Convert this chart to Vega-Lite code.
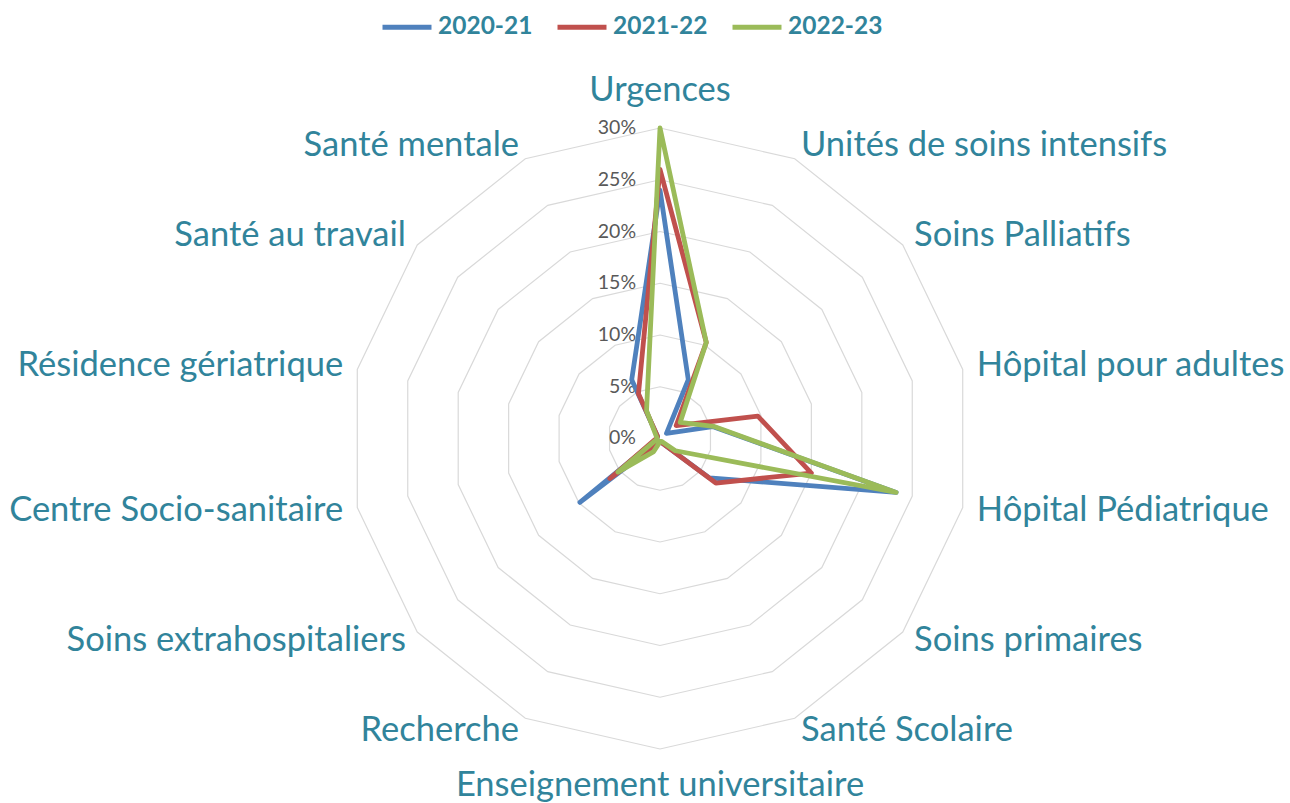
{
  "$schema": "https://vega.github.io/schema/vega-lite/v6.json",
  "width": 1290,
  "height": 803,
  "autosize": {"type": "fit", "contains": "padding"},
  "padding": 0,
  "background": "white",
  "config": {"view": {"stroke": null}, "font": "Lato"},
  "datasets": {
    "series": [
      {"cat": "Urgences", "idx": 0, "series": "2020-21", "value": 24},
      {"cat": "Unités de soins intensifs", "idx": 1, "series": "2020-21", "value": 6.3},
      {"cat": "Soins Palliatifs", "idx": 2, "series": "2020-21", "value": 0.8},
      {"cat": "Hôpital pour adultes", "idx": 3, "series": "2020-21", "value": 5.2},
      {"cat": "Hôpital Pédiatrique", "idx": 4, "series": "2020-21", "value": 23.4},
      {"cat": "Soins primaires", "idx": 5, "series": "2020-21", "value": 6.1},
      {"cat": "Santé Scolaire", "idx": 6, "series": "2020-21", "value": 0.5},
      {"cat": "Enseignement universitaire", "idx": 7, "series": "2020-21", "value": 0.3},
      {"cat": "Recherche", "idx": 8, "series": "2020-21", "value": 0.5},
      {"cat": "Soins extrahospitaliers", "idx": 9, "series": "2020-21", "value": 9.9},
      {"cat": "Centre Socio-sanitaire", "idx": 10, "series": "2020-21", "value": 0.3},
      {"cat": "Résidence gériatrique", "idx": 11, "series": "2020-21", "value": 0.3},
      {"cat": "Santé au travail", "idx": 12, "series": "2020-21", "value": 0.3},
      {"cat": "Santé mentale", "idx": 13, "series": "2020-21", "value": 6.3},
      {"cat": "Urgences", "idx": 0, "series": "2021-22", "value": 26},
      {"cat": "Unités de soins intensifs", "idx": 1, "series": "2021-22", "value": 10.3},
      {"cat": "Soins Palliatifs", "idx": 2, "series": "2021-22", "value": 2.0},
      {"cat": "Hôpital pour adultes", "idx": 3, "series": "2021-22", "value": 9.7},
      {"cat": "Hôpital Pédiatrique", "idx": 4, "series": "2021-22", "value": 15},
      {"cat": "Soins primaires", "idx": 5, "series": "2021-22", "value": 6.9},
      {"cat": "Santé Scolaire", "idx": 6, "series": "2021-22", "value": 0.5},
      {"cat": "Enseignement universitaire", "idx": 7, "series": "2021-22", "value": 0.3},
      {"cat": "Recherche", "idx": 8, "series": "2021-22", "value": 0.5},
      {"cat": "Soins extrahospitaliers", "idx": 9, "series": "2021-22", "value": 6.2},
      {"cat": "Centre Socio-sanitaire", "idx": 10, "series": "2021-22", "value": 0.5},
      {"cat": "Résidence gériatrique", "idx": 11, "series": "2021-22", "value": 0.3},
      {"cat": "Santé au travail", "idx": 12, "series": "2021-22", "value": 0.3},
      {"cat": "Santé mentale", "idx": 13, "series": "2021-22", "value": 4.8},
      {"cat": "Urgences", "idx": 0, "series": "2022-23", "value": 30},
      {"cat": "Unités de soins intensifs", "idx": 1, "series": "2022-23", "value": 10.3},
      {"cat": "Soins Palliatifs", "idx": 2, "series": "2022-23", "value": 2.5},
      {"cat": "Hôpital pour adultes", "idx": 3, "series": "2022-23", "value": 5.3},
      {"cat": "Hôpital Pédiatrique", "idx": 4, "series": "2022-23", "value": 23.4},
      {"cat": "Soins primaires", "idx": 5, "series": "2022-23", "value": 1.9},
      {"cat": "Santé Scolaire", "idx": 6, "series": "2022-23", "value": 0.3},
      {"cat": "Enseignement universitaire", "idx": 7, "series": "2022-23", "value": 0.3},
      {"cat": "Recherche", "idx": 8, "series": "2022-23", "value": 1.4},
      {"cat": "Soins extrahospitaliers", "idx": 9, "series": "2022-23", "value": 5.2},
      {"cat": "Centre Socio-sanitaire", "idx": 10, "series": "2022-23", "value": 0.3},
      {"cat": "Résidence gériatrique", "idx": 11, "series": "2022-23", "value": 0.3},
      {"cat": "Santé au travail", "idx": 12, "series": "2022-23", "value": 0.5},
      {"cat": "Santé mentale", "idx": 13, "series": "2022-23", "value": 3.0}
    ],
    "cats": [
      {"cat": "Urgences", "idx": 0},
      {"cat": "Unités de soins intensifs", "idx": 1},
      {"cat": "Soins Palliatifs", "idx": 2},
      {"cat": "Hôpital pour adultes", "idx": 3},
      {"cat": "Hôpital Pédiatrique", "idx": 4},
      {"cat": "Soins primaires", "idx": 5},
      {"cat": "Santé Scolaire", "idx": 6},
      {"cat": "Enseignement universitaire", "idx": 7},
      {"cat": "Recherche", "idx": 8},
      {"cat": "Soins extrahospitaliers", "idx": 9},
      {"cat": "Centre Socio-sanitaire", "idx": 10},
      {"cat": "Résidence gériatrique", "idx": 11},
      {"cat": "Santé au travail", "idx": 12},
      {"cat": "Santé mentale", "idx": 13}
    ],
    "rings": [
      {"ring": 5, "idx": [0,1,2,3,4,5,6,7,8,9,10,11,12,13]},
      {"ring": 10, "idx": [0,1,2,3,4,5,6,7,8,9,10,11,12,13]},
      {"ring": 15, "idx": [0,1,2,3,4,5,6,7,8,9,10,11,12,13]},
      {"ring": 20, "idx": [0,1,2,3,4,5,6,7,8,9,10,11,12,13]},
      {"ring": 25, "idx": [0,1,2,3,4,5,6,7,8,9,10,11,12,13]},
      {"ring": 30, "idx": [0,1,2,3,4,5,6,7,8,9,10,11,12,13]}
    ],
    "ticks": [
      {"t": 0, "label": "0%"},
      {"t": 5, "label": "5%"},
      {"t": 10, "label": "10%"},
      {"t": 15, "label": "15%"},
      {"t": 20, "label": "20%"},
      {"t": 25, "label": "25%"},
      {"t": 30, "label": "30%"}
    ]
  },
  "layer": [
    {
      "data": {"name": "rings"},
      "transform": [
        {"flatten": ["idx"]},
        {"calculate": "datum.idx * 2 * PI / 14", "as": "a"},
        {"calculate": "datum.ring * sin(datum.a)", "as": "x"},
        {"calculate": "datum.ring * cos(datum.a)", "as": "y"}
      ],
      "mark": {"type": "line", "interpolate": "linear-closed", "stroke": "#D9D9D9", "strokeWidth": 1.2},
      "encoding": {
        "x": {"field": "x", "type": "quantitative", "scale": {"domain": [-63.77, 60.87], "nice": false, "zero": false}, "axis": null},
        "y": {"field": "y", "type": "quantitative", "scale": {"domain": [-35.22, 42.37], "nice": false, "zero": false}, "axis": null},
        "detail": {"field": "ring", "type": "nominal"},
        "order": {"field": "idx", "type": "quantitative"}
      }
    },
    {
      "data": {"name": "ticks"},
      "transform": [
        {"calculate": "0", "as": "x"}
      ],
      "mark": {"type": "text", "align": "right", "baseline": "middle", "dx": -24, "fontSize": 19.5, "color": "#595959"},
      "encoding": {
        "x": {"field": "x", "type": "quantitative"},
        "y": {"field": "t", "type": "quantitative"},
        "text": {"field": "label"}
      }
    },
    {
      "data": {"name": "series"},
      "transform": [
        {"calculate": "datum.idx * 2 * PI / 14", "as": "a"},
        {"calculate": "datum.value * sin(datum.a)", "as": "x"},
        {"calculate": "datum.value * cos(datum.a)", "as": "y"}
      ],
      "mark": {"type": "line", "interpolate": "linear-closed", "strokeWidth": 4.8, "strokeJoin": "round", "strokeCap": "round"},
      "encoding": {
        "x": {"field": "x", "type": "quantitative"},
        "y": {"field": "y", "type": "quantitative"},
        "order": {"field": "idx", "type": "quantitative"},
        "color": {
          "field": "series", "type": "nominal",
          "scale": {"domain": ["2020-21", "2021-22", "2022-23"], "range": ["#4F81BD", "#C0504D", "#9BBB59"]},
          "legend": {
            "title": null, "orient": "none", "direction": "horizontal",
            "legendX": 380, "legendY": 0,
            "symbolType": "stroke", "symbolSize": 2400, "symbolStrokeWidth": 4.8,
            "labelFontSize": 24.5, "labelFontWeight": "bold", "labelColor": "#31849B",
            "labelOffset": 4, "columnPadding": 14, "labelFont": "Lato"
          }
        }
      }
    },
    {
      "data": {"name": "cats"},
      "transform": [
        {"filter": "datum.idx >= 1 && datum.idx <= 6"},
        {"calculate": "datum.idx * 2 * PI / 14", "as": "a"},
        {"calculate": "31.4 * sin(datum.a)", "as": "x"},
        {"calculate": "31.4 * cos(datum.a)", "as": "y"}
      ],
      "mark": {"type": "text", "align": "left", "baseline": "middle", "fontSize": 34.5, "color": "#31849B"},
      "encoding": {
        "x": {"field": "x", "type": "quantitative"},
        "y": {"field": "y", "type": "quantitative"},
        "text": {"field": "cat"}
      }
    },
    {
      "data": {"name": "cats"},
      "transform": [
        {"filter": "datum.idx >= 8"},
        {"calculate": "datum.idx * 2 * PI / 14", "as": "a"},
        {"calculate": "31.4 * sin(datum.a)", "as": "x"},
        {"calculate": "31.4 * cos(datum.a)", "as": "y"}
      ],
      "mark": {"type": "text", "align": "right", "baseline": "middle", "fontSize": 34.5, "color": "#31849B"},
      "encoding": {
        "x": {"field": "x", "type": "quantitative"},
        "y": {"field": "y", "type": "quantitative"},
        "text": {"field": "cat"}
      }
    },
    {
      "data": {"name": "cats"},
      "transform": [
        {"filter": "datum.idx == 0 || datum.idx == 7"},
        {"calculate": "datum.idx * 2 * PI / 14", "as": "a"},
        {"calculate": "33.6 * sin(datum.a)", "as": "x"},
        {"calculate": "33.6 * cos(datum.a)", "as": "y"}
      ],
      "mark": {"type": "text", "align": "center", "baseline": "middle", "fontSize": 34.5, "color": "#31849B"},
      "encoding": {
        "x": {"field": "x", "type": "quantitative"},
        "y": {"field": "y", "type": "quantitative"},
        "text": {"field": "cat"}
      }
    }
  ]
}
